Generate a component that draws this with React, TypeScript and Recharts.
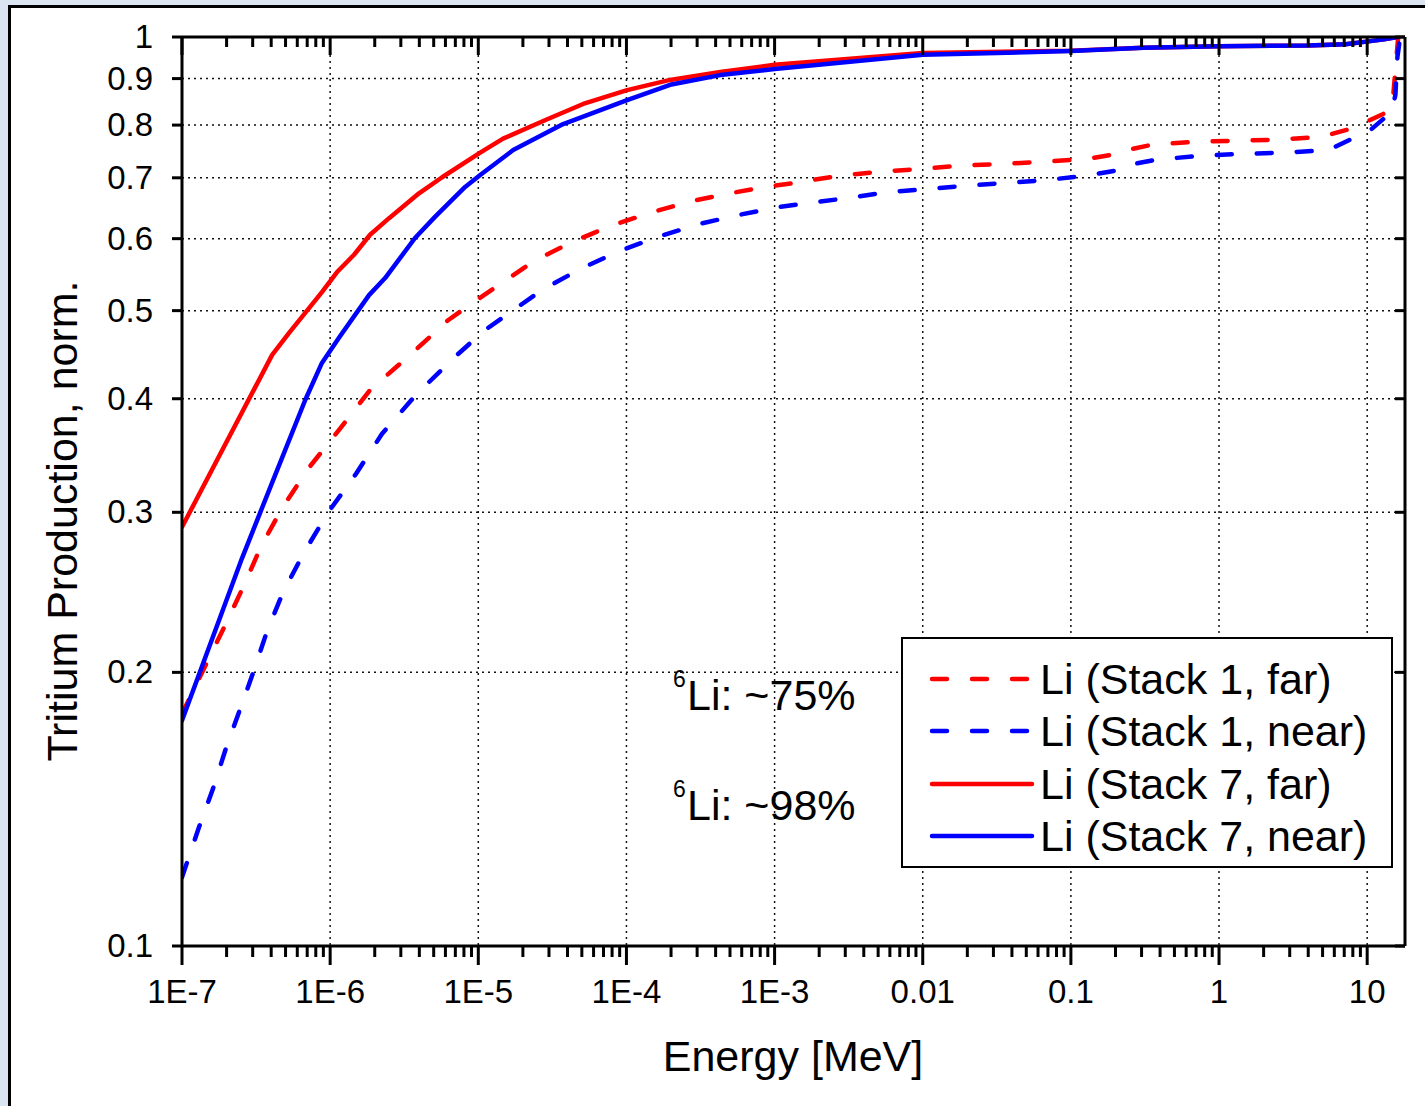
import React from "react"
import { LineChart, Line, XAxis, YAxis, CartesianGrid, Legend } from "recharts"

const FONT = "'Liberation Sans', Arial, sans-serif"

// axis ticks
const xMajorTicks = [1e-7, 1e-6, 1e-5, 1e-4, 1e-3, 0.01, 0.1, 1, 10]
const xTickLabels = ["1E-7", "1E-6", "1E-5", "1E-4", "1E-3", "0.01", "0.1", "1", "10"]
const yTicks = [0.1, 0.2, 0.3, 0.4, 0.5, 0.6, 0.7, 0.8, 0.9, 1]
const yTickLabels = ["0.1", "0.2", "0.3", "0.4", "0.5", "0.6", "0.7", "0.8", "0.9", "1"]

const xMinorTicks: number[] = []
for (let p = -7; p <= 0; p++) {
  for (let d = 2; d <= 9; d++) xMinorTicks.push(d * Math.pow(10, p))
}
const xAllTicks = [...xMajorTicks, ...xMinorTicks].sort((a, b) => a - b)

// [energy MeV, normalized tritium production]
const stack1Far: [number, number][] = [
  [1e-7, 0.18], [1.47e-7, 0.205], [1.92e-7, 0.224], [2.58e-7, 0.248], [3.41e-7, 0.275],
  [4.73e-7, 0.303], [7.1e-7, 0.335], [1.17e-6, 0.371], [1.86e-6, 0.409], [3.47e-6, 0.447],
  [6.25e-6, 0.488], [1e-5, 0.515], [2.42e-5, 0.568], [4.5e-5, 0.597], [8.1e-5, 0.621],
  [1.51e-4, 0.642], [2.78e-4, 0.66], [5.2e-4, 0.674], [9.8e-4, 0.686], [1.36e-3, 0.691],
  [2.77e-3, 0.704], [5.2e-3, 0.711], [9.8e-3, 0.716], [0.0182, 0.722], [0.0344, 0.725],
  [0.0641, 0.729], [0.127, 0.734], [0.1875, 0.742], [0.24, 0.751], [0.349, 0.761],
  [0.692, 0.767], [1.31, 0.769], [2.44, 0.771], [4.83, 0.776], [7.59, 0.792],
  [9.73, 0.806], [13.7, 0.827], [15.0, 0.863], [15.5, 0.92], [16.2, 1.0],
]

const stack1Near: [number, number][] = [
  [1e-7, 0.119], [1.3e-7, 0.135], [1.62e-7, 0.149], [1.98e-7, 0.165], [2.46e-7, 0.182],
  [3.06e-7, 0.201], [3.75e-7, 0.222], [4.81e-7, 0.245], [6.67e-7, 0.271], [9.7e-7, 0.3],
  [1.5e-6, 0.331], [2.24e-6, 0.366], [3.8e-6, 0.404], [6.97e-6, 0.445], [1.11e-5, 0.476],
  [2.7e-5, 0.527], [5.02e-5, 0.557], [9.35e-5, 0.583], [1.69e-4, 0.604], [3.15e-4, 0.623],
  [5.68e-4, 0.637], [1.06e-3, 0.65], [3.09e-3, 0.665], [5.75e-3, 0.675], [0.0104, 0.68],
  [0.0194, 0.686], [0.0366, 0.691], [0.0683, 0.696], [0.127, 0.704], [0.212, 0.714],
  [0.264, 0.725], [0.383, 0.733], [0.736, 0.74], [1.48, 0.744], [2.76, 0.746],
  [5.47, 0.751], [8.32, 0.776], [10.7, 0.792], [14.6, 0.827], [15.5, 0.863],
  [16.0, 0.951], [16.7, 1.0],
]

const stack7Far: [number, number][] = [
  [1e-7, 0.289], [4.06e-7, 0.447], [5.3e-7, 0.473], [8.8e-7, 0.524], [1.11e-6, 0.551],
  [1.45e-6, 0.576], [1.86e-6, 0.606], [2.5e-6, 0.632], [3.98e-6, 0.673], [5.7e-6, 0.701],
  [1.03e-5, 0.746], [1.47e-5, 0.773], [2.92e-5, 0.812], [5.1e-5, 0.844], [1.01e-4, 0.874],
  [1.97e-4, 0.897], [4.3e-4, 0.915], [1e-3, 0.932], [0.01, 0.96], [0.1, 0.966],
  [0.308, 0.973], [1, 0.977], [4.0, 0.979], [7.13, 0.982], [10.2, 0.989], [13.0, 0.994], [16.0, 1.0],
]

const stack7Near: [number, number][] = [
  [1e-7, 0.177], [2.54e-7, 0.267], [4.2e-7, 0.328], [6.8e-7, 0.399], [8.8e-7, 0.438],
  [1.15e-6, 0.467], [1.83e-6, 0.52], [2.35e-6, 0.543], [3.74e-6, 0.601], [5.1e-6, 0.634],
  [8.15e-6, 0.684], [1.03e-5, 0.705], [1.72e-5, 0.751], [3.74e-5, 0.802], [1.01e-4, 0.852],
  [1.97e-4, 0.886], [4.3e-4, 0.908], [1e-3, 0.922], [0.01, 0.956], [0.1, 0.965],
  [0.308, 0.973], [1, 0.977], [4.0, 0.979], [7.13, 0.982], [10.2, 0.989], [13.0, 0.994], [16.0, 1.0],
]

const toRows = (pairs: [number, number][]) => pairs.map(([e, v]) => ({ e, v }))

const series = [
  { name: "Li (Stack 1, far)", color: "#ff0000", dash: "15 25", data: toRows(stack1Far) },
  { name: "Li (Stack 1, near)", color: "#0000ff", dash: "15 25", data: toRows(stack1Near) },
  { name: "Li (Stack 7, far)", color: "#ff0000", dash: undefined, data: toRows(stack7Far) },
  { name: "Li (Stack 7, near)", color: "#0000ff", dash: undefined, data: toRows(stack7Near) },
]

const X_DOMAIN: [number, number] = [1e-7, 18]
const Y_DOMAIN: [number, number] = [0.1, 1]

const BottomTick = (props: any) => {
  const { x, y, payload } = props
  const i = xMajorTicks.indexOf(payload.value)
  const major = i >= 0
  return (
    <g>
      <line x1={x} x2={x} y1={y} y2={y + (major ? 19 : 11)} stroke="#000" strokeWidth={3} />
      {major && (
        <text x={x} y={y + 57} textAnchor="middle" fontSize={33} fontFamily={FONT} fill="#000">
          {xTickLabels[i]}
        </text>
      )}
    </g>
  )
}

const TopTick = (props: any) => {
  const { x, y, payload } = props
  const major = xMajorTicks.indexOf(payload.value) >= 0
  return <line x1={x} x2={x} y1={y} y2={y + (major ? 18 : 10)} stroke="#000" strokeWidth={3} />
}

const LeftTick = (props: any) => {
  const { x, y, payload } = props
  const i = yTicks.indexOf(payload.value)
  return (
    <g>
      <line x1={x - 10} x2={x} y1={y} y2={y} stroke="#000" strokeWidth={3} />
      <text x={x - 29} y={y + 11} textAnchor="end" fontSize={33} fontFamily={FONT} fill="#000">
        {yTickLabels[i]}
      </text>
    </g>
  )
}

const RightTick = (props: any) => {
  const { x, y } = props
  return <line x1={x - 10} x2={x} y1={y} y2={y} stroke="#000" strokeWidth={3} />
}

const renderLegend = (props: any) => {
  const items = (props.payload && props.payload.length ? props.payload : series.map(s => ({ value: s.name, color: s.color, payload: { strokeDasharray: s.dash } })))
  return (
    <div
      style={{
        width: 492,
        height: 231,
        boxSizing: "border-box",
        border: "2px solid #000",
        background: "#fff",
        paddingTop: 14,
        fontFamily: FONT,
      }}
    >
      {items.map((it: any) => (
        <div key={it.value} style={{ height: 52.3, display: "flex", alignItems: "center" }}>
          <svg width={136} height={20} style={{ marginLeft: 25, flex: "none" }}>
            <line
              x1={4}
              x2={104}
              y1={10}
              y2={10}
              stroke={it.color}
              strokeWidth={4.5}
              strokeLinecap="round"
              strokeDasharray={it.payload?.strokeDasharray}
            />
          </svg>
          <span style={{ fontSize: 43, lineHeight: "52px", color: "#000", marginLeft: -24, whiteSpace: "nowrap" }}>
            {it.value}
          </span>
        </div>
      ))}
    </div>
  )
}

export default function App() {
  return (
    <div
      style={{
        position: "absolute",
        left: 0,
        top: 0,
        width: 1425,
        height: 1106,
        overflow: "hidden",
        background: "#dae5f1",
      }}
    >
      <div
        style={{
          position: "absolute",
          left: 8,
          top: 5,
          width: 1500,
          height: 1200,
          border: "3px solid #000",
          background: "#fff",
        }}
      />
      <div style={{ position: "absolute", left: 0, top: 0 }}>
        <LineChart width={1425} height={1106} margin={{ top: 36, right: 19, bottom: 60, left: 82 }}>
          <CartesianGrid xAxisId="g" yAxisId="l" stroke="#111" strokeWidth={1.5} strokeDasharray="2 4" />
          <XAxis
            xAxisId="g"
            dataKey="e"
            type="number"
            scale="log"
            domain={X_DOMAIN}
            allowDataOverflow
            ticks={xMajorTicks}
            interval={0}
            hide
          />
          <XAxis
            xAxisId="b"
            dataKey="e"
            type="number"
            scale="log"
            domain={X_DOMAIN}
            allowDataOverflow
            ticks={xAllTicks}
            interval={0}
            height={100}
            tickSize={0}
            tickMargin={0}
            tickLine={false}
            tick={BottomTick}
            axisLine={{ stroke: "#000", strokeWidth: 3 }}
          />
          <XAxis
            xAxisId="t"
            orientation="top"
            dataKey="e"
            type="number"
            scale="log"
            domain={X_DOMAIN}
            allowDataOverflow
            ticks={xAllTicks}
            interval={0}
            height={1}
            tickSize={0}
            tickMargin={0}
            tickLine={false}
            tick={TopTick}
            axisLine={{ stroke: "#000", strokeWidth: 3 }}
          />
          <YAxis
            yAxisId="l"
            type="number"
            scale="log"
            domain={Y_DOMAIN}
            allowDataOverflow
            ticks={yTicks}
            interval={0}
            width={100}
            tickSize={0}
            tickMargin={0}
            tickLine={false}
            tick={LeftTick}
            axisLine={{ stroke: "#000", strokeWidth: 3 }}
          />
          <YAxis
            yAxisId="r"
            orientation="right"
            type="number"
            scale="log"
            domain={Y_DOMAIN}
            allowDataOverflow
            ticks={yTicks}
            interval={0}
            width={1}
            tickSize={0}
            tickMargin={0}
            tickLine={false}
            tick={RightTick}
            axisLine={{ stroke: "#000", strokeWidth: 3 }}
          />
          {series.map(s => (
            <Line
              key={s.name}
              xAxisId="b"
              yAxisId="l"
              data={s.data}
              dataKey="v"
              name={s.name}
              type="linear"
              stroke={s.color}
              strokeWidth={4.5}
              strokeDasharray={s.dash}
              strokeLinecap="round"
              strokeLinejoin="round"
              dot={false}
              activeDot={false}
              isAnimationActive={false}
            />
          ))}
          <Legend
            layout="vertical"
            align="center"
            verticalAlign="middle"
            wrapperStyle={{ left: 901, top: 637, width: 492, height: 231 }}
            content={renderLegend}
          />
        </LineChart>
      </div>
      <svg
        width={1425}
        height={1106}
        style={{ position: "absolute", left: 0, top: 0, pointerEvents: "none" }}
        fontFamily={FONT}
      >
        <text x={793} y={1071} textAnchor="middle" fontSize={43} fill="#000">
          Energy [MeV]
        </text>
        <text transform="translate(77, 521) rotate(-90)" textAnchor="middle" fontSize={43} fill="#000">
          Tritium Production, norm.
        </text>
        <text x={673} y={687} fontSize={23} fill="#000">6</text>
        <text x={687} y={710} fontSize={43} fill="#000">Li: ~75%</text>
        <text x={673} y={797} fontSize={23} fill="#000">6</text>
        <text x={687} y={820} fontSize={43} fill="#000">Li: ~98%</text>
      </svg>
    </div>
  )
}
